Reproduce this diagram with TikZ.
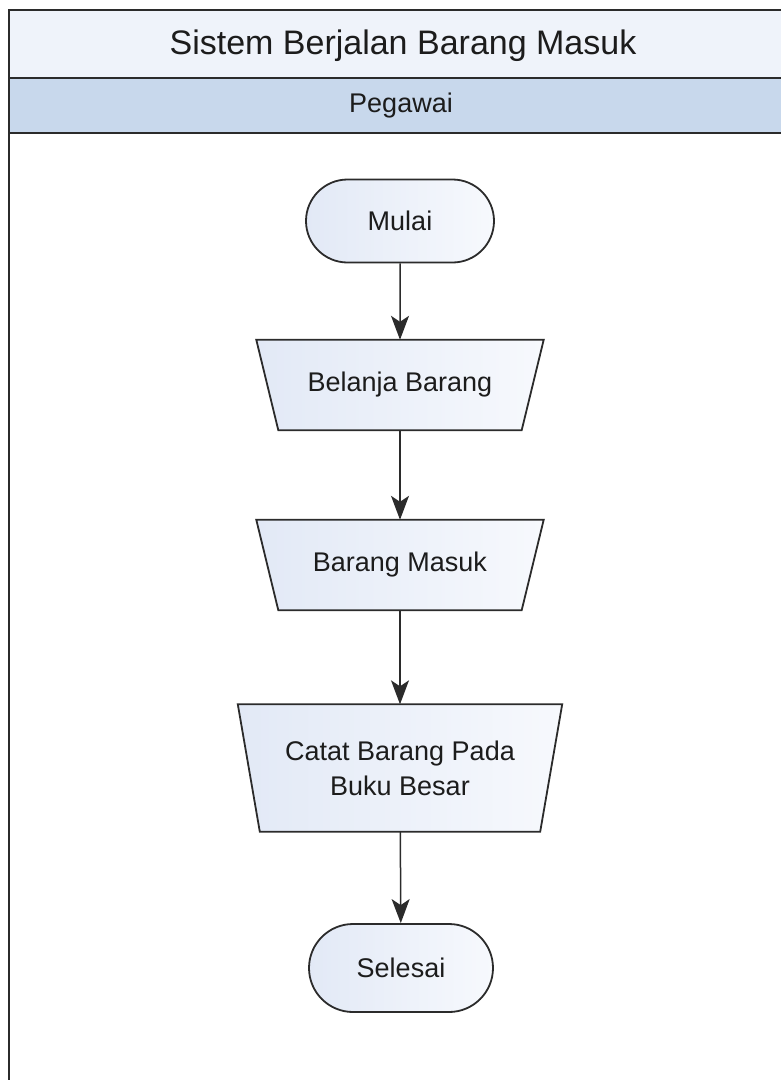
\documentclass[tikz,border=0pt]{standalone}
\usepackage{fontspec}
\setmainfont{Liberation Sans}
\usetikzlibrary{shapes.misc,arrows.meta,backgrounds}
\definecolor{titlefill}{HTML}{EFF3FA}
\definecolor{lanefill}{HTML}{C8D8EC}
\definecolor{edgecol}{HTML}{2B2B2B}
\definecolor{textcol}{HTML}{1C1C1C}
\definecolor{shadeL}{HTML}{E2E9F6}
\definecolor{shadeR}{HTML}{F7F9FD}
\tikzset{
  boxface/.style={draw=edgecol, line width=1.8pt, left color=shadeL, right color=shadeR},
  boxtext/.style={text=textcol, font=\fontsize{27}{35}\selectfont, align=center, inner sep=0pt},
  terminal/.style={boxface, boxtext, rounded rectangle},
  manualslot/.style={boxtext, rectangle},
  flow/.style={draw=edgecol, line width=1.5pt, -{Stealth[length=24pt,width=18pt,inset=6pt]}}
}
% manual-operation trapezoid drawn around a named node: #1 node, #2 inset of the lower corners
\newcommand{\manualface}[2]{%
  \path[boxface] (#1.north west) -- (#1.north east)
    -- ([xshift=-#2]#1.south east) -- ([xshift=#2]#1.south west) -- cycle;}
\begin{document}
\begin{tikzpicture}[x=1pt,y=-1pt]
\useasboundingbox (0,0) rectangle (781,1080);
\begin{scope}
\clip (0,0) rectangle (781,1080);
% pool frame, title band and lane header
\fill[titlefill] (9,10) rectangle (795,78);
\fill[lanefill] (9,78) rectangle (795,133);
\draw[edgecol, line width=1.6pt] (9,1100) -- (9,10) -- (795,10) -- (795,1100);
\draw[edgecol, line width=1.6pt] (9,78) -- (795,78);
\draw[edgecol, line width=1.6pt] (9,133) -- (795,133);
\end{scope}
\node[text=textcol, font=\fontsize{34}{40}\selectfont] (title) at (403,46) {Sistem Berjalan Barang Masuk};
\node[text=textcol, font=\fontsize{27}{32}\selectfont] (lane) at (401,106) {Pegawai};

% flow steps
\node[terminal, minimum width=188pt, minimum height=83pt] (mulai) at (400,221) {Mulai};
\node[manualslot, minimum width=287pt, minimum height=90pt] (belanja) at (400,385) {Belanja Barang};
\node[manualslot, minimum width=287pt, minimum height=90pt] (masuk) at (400,565) {Barang Masuk};
\node[manualslot, minimum width=324pt, minimum height=127pt] (catat) at (400,768) {Catat Barang Pada\\ Buku Besar};
\node[terminal, minimum width=184pt, minimum height=88pt] (selesai) at (401,968) {Selesai};

\begin{scope}[on background layer]
\manualface{belanja}{22pt}
\manualface{masuk}{22pt}
\manualface{catat}{22pt}
\end{scope}

% connectors
\draw[flow] (mulai) -- (belanja);
\draw[flow] (belanja) -- (masuk);
\draw[flow] (masuk) -- (catat);
\draw[flow] (catat) -- (selesai);
\end{tikzpicture}
\end{document}
